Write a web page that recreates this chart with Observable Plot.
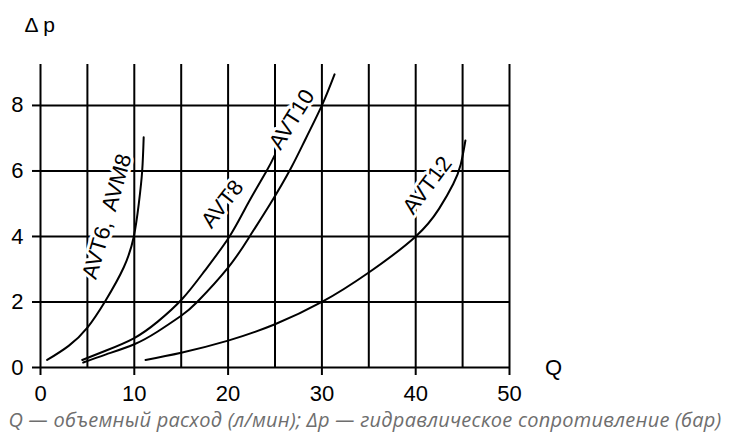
<!DOCTYPE html>
<html><head><meta charset="utf-8">
<script src="https://cdn.jsdelivr.net/npm/d3@7"></script>
<script src="https://cdn.jsdelivr.net/npm/@observablehq/plot@0.6"></script>
<style>
body{margin:0;background:#fff;}
#chart{height:408px;}
#cap{font-family:"Open Sans","Noto Sans",sans-serif;font-style:italic;color:#6e6e6e;font-size:20px;letter-spacing:0.25px;height:24px;line-height:24px;text-align:center;white-space:nowrap;}
</style></head><body>
<div id="chart"></div>
<div id="cap">Q — объемный расход (л/мин); Δp — гидравлическое сопротивление (бар)</div>
<script>
// Series: Q (л/мин) and Δp (бар)
const qAVT6  = [0.71, 3, 5, 6.93, 8.88, 9.95, 10.48, 10.84, 11.0];
const pAVT6  = [0.23, 0.66, 1.22, 2.04, 3.06, 4, 5, 6, 7.03];
const qAVT8  = [4.45, 7, 10, 12.5, 15.1, 17.5, 20.15, 22.1, 24.1, 24.95];
const pAVT8  = [0.23, 0.52, 0.9, 1.4, 2.09, 2.95, 4, 5, 6, 6.47];
const qAVT10 = [4.55, 7, 10, 12.5, 15, 16.7, 20, 22.3, 24.5, 26.65, 28.3, 30, 31.35];
const pAVT10 = [0.15, 0.4, 0.71, 1.1, 1.58, 2.0, 3.05, 4, 5.0, 6.06, 7.0, 8, 8.95];
const qAVT12 = [11.2, 15, 20, 25, 30, 35, 40, 42.5, 44, 44.8, 45.3];
const pAVT12 = [0.23, 0.45, 0.82, 1.32, 2.0, 2.9, 4.0, 4.85, 5.6, 6.2, 6.93];

// Curve labels
const labelText  = ["AVT6,  AVM8", "AVT8", "AVT10", "AVT12"];
const labelQ     = [7.1, 19.4, 26.81, 41.25];
const labelP     = [4.61, 4.99, 7.57, 5.56];
const labelAngle = [-74, -52, -58, -53];

// Grid & ticks
const gridQ  = [0, 5, 10, 15, 20, 25, 30, 35, 40, 45, 50];
const gridP  = [0, 2, 4, 6, 8];
const xTicks = [0, 10, 20, 30, 40, 50];
const yTicks = [0, 2, 4, 6, 8];

const series = [
  {name: "AVT6, AVM8", q: qAVT6, p: pAVT6},
  {name: "AVT8", q: qAVT8, p: pAVT8},
  {name: "AVT10", q: qAVT10, p: pAVT10},
  {name: "AVT12", q: qAVT12, p: pAVT12}
];
const curveData = series.flatMap(s => s.q.map((q, i) => ({s: s.name, q, p: s.p[i]})));
const labels = labelText.map((t, i) => ({t, q: labelQ[i], p: labelP[i], a: labelAngle[i]}));

const font = "'Liberation Sans', Arial, sans-serif";
const chart = Plot.plot({
  width: 730, height: 408,
  marginLeft: 40, marginRight: 221, marginTop: 64, marginBottom: 41,
  x: {domain: [0, 50]},
  y: {domain: [0, 9.25]},
  style: {fontFamily: font, background: "white", overflow: "visible", color: "black"},
  marks: [
    Plot.ruleX(gridQ, {x: d => d, y1: 0, y2: 9.25, stroke: "black", strokeWidth: 2}),
    Plot.ruleY(gridP, {y: d => d, x1: 0, x2: 50, stroke: "black", strokeWidth: 2}),
    Plot.axisX({ticks: xTicks, tickSize: 8, tickPadding: 10, fontSize: 22, strokeWidth: 2, label: null}),
    Plot.axisY({ticks: yTicks, tickSize: 8, tickPadding: 9, fontSize: 22, strokeWidth: 2, label: null}),
    Plot.text(labels, {x: "q", y: "p", text: "t", rotate: "a", fontSize: 22, fill: "black", stroke: "white", strokeWidth: 6}),
    Plot.line(curveData, {x: "q", y: "p", z: "s", curve: "natural", stroke: "black", strokeWidth: 2}),
    Plot.text(["Δ p"], {frameAnchor: "top-left", dx: -16, dy: -39, textAnchor: "start", lineAnchor: "middle", fontSize: 21, fill: "black"}),
    Plot.text(["Q"], {frameAnchor: "bottom-right", dx: 44, textAnchor: "middle", lineAnchor: "middle", fontSize: 22, fill: "black"})
  ]
});
document.getElementById("chart").appendChild(chart);
</script>
</body></html>
